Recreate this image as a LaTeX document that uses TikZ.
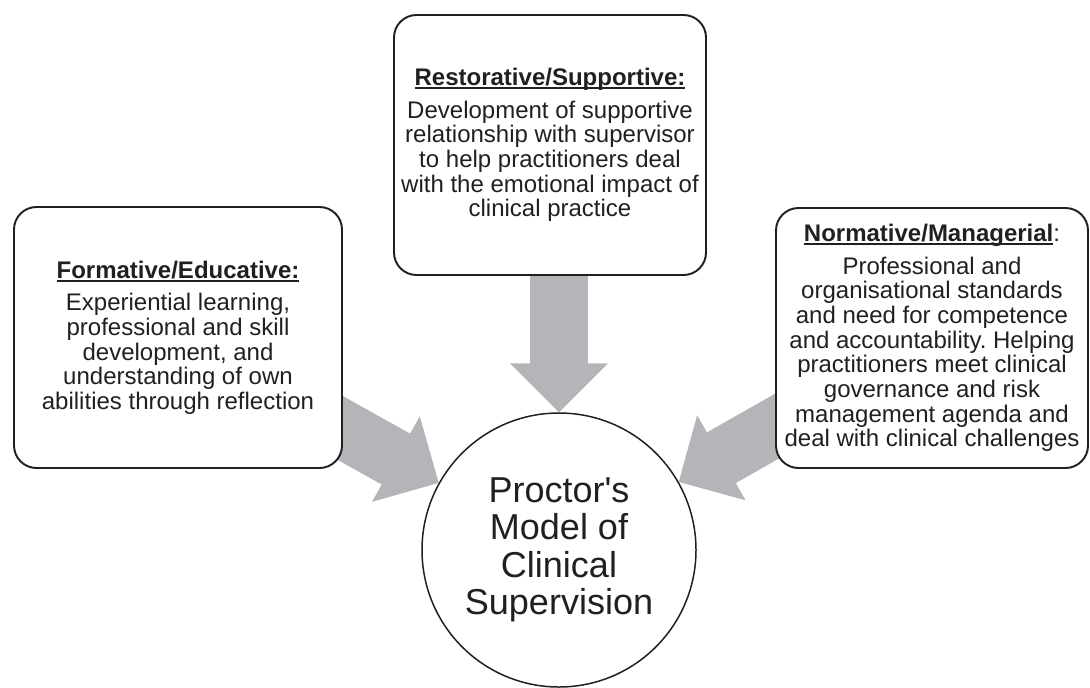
\documentclass[tikz,border=0pt]{standalone}
\usepackage{fontspec}
\setmainfont{Liberation Sans}
\usetikzlibrary{arrows.meta,backgrounds}

\definecolor{texte}{RGB}{35,31,32}
\definecolor{gris}{RGB}{180,181,184}

% titre gras souligné, trait à hauteur fixe
\newcommand{\titre}[1]{\setbox0=\hbox{\textbf{#1}}\rlap{\rule[-2pt]{\wd0}{1.1pt}}\box0}
\frenchspacing

\tikzset{
  boite/.style={draw=texte, line width=1.1pt, rounded corners=0.45cm, fill=white,
    minimum width=6.24cm, minimum height=5.2cm, align=center, text=texte,
    font=\fontsize{13.66}{14.05}\selectfont},
  cercle/.style={circle, draw=texte, line width=0.85pt, fill=white, minimum size=5.48cm,
    inner sep=0pt, align=center, text=texte, font=\fontsize{20.5}{21.3}\selectfont},
  grossefleche/.style={gris, line width=1.16cm,
    -{Triangle[width=1.96cm,length=0.98cm,line width=0pt]}},
  tige/.style={gris, line width=1.16cm, shorten >=0.7cm}
}

\begin{document}
\begin{tikzpicture}
      \useasboundingbox (0,0) rectangle (21.8,-13.74);

      %Cercle central
      \node[cercle] (proctor) at (11.18,-11.0)
        {Proctor\textquotesingle s\\Model of\\Clinical\\Supervision};

      %Boîtes
      \node[boite, minimum width=6.56cm, minimum height=5.22cm] (formative) at (3.56,-6.75)
        {\titre{Formative/Educative:}\\[4.5pt]
         Experiential learning,\\ professional and skill\\ development, and\\
         understanding of own\\ abilities through reflection};
      \node[boite] (restore) at (11.0,-2.9)
        {\titre{Restorative/Supportive:}\\[4.5pt]
         Development of supportive\\ relationship with supervisor\\
         to help practitioners deal\\ with the emotional impact of\\ clinical practice};
      \node[boite] (normative) at (18.64,-6.76)
        {\titre{Normative/Managerial}:\\[4.5pt]
         Professional and\\ organisational standards\\ and need for competence\\
         and accountability. Helping\\ practitioners meet clinical\\ governance and risk\\
         management agenda and\\ deal with clinical challenges};

      %Flèches (derrière les boîtes)
      \begin{scope}[on background layer]
        \foreach \depart/\arrivee in {formative.center/proctor,
            proctor.north |- restore.center/proctor.north, normative.center/proctor} {
          \draw[grossefleche] (\depart) -- (\arrivee);
          \draw[tige] (\depart) -- (\arrivee);
        }
      \end{scope}
\end{tikzpicture}
\end{document}
